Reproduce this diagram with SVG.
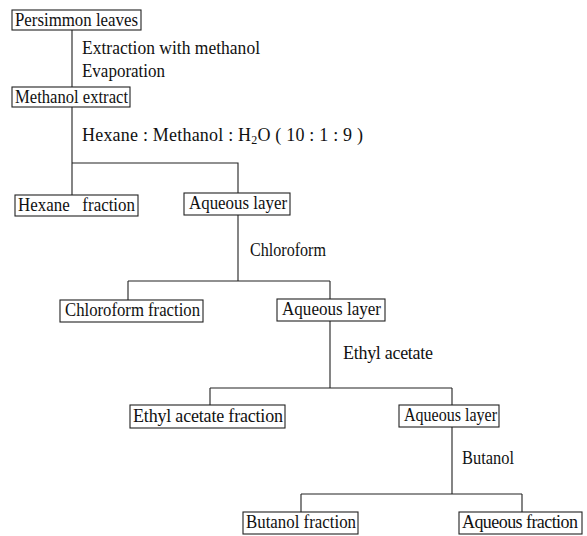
<svg xmlns="http://www.w3.org/2000/svg" width="587" height="536" viewBox="0 0 587 536">
<style>
text{font-family:"Liberation Serif","Times New Roman",serif;font-size:18px;fill:#111;white-space:pre}
.box{fill:none;stroke:#222;stroke-width:1.1}
.ln{fill:none;stroke:#222;stroke-width:1.1}
</style>
<rect width="587" height="536" fill="#fff"/>
<g id="connectors">
<path class="ln" d="M72,30V87M72,107V195M72,163H238V193M238,215V281M128,281H330M128,281V300M330,281V299M330,321V388M210,388H452M210,388V405M452,388V405M452,427V494M301,494H522M301,494V512M522,494V512"/>
<text x="82" y="54" textLength="178" lengthAdjust="spacingAndGlyphs">Extraction with methanol</text>
<text x="82" y="77" textLength="83" lengthAdjust="spacingAndGlyphs">Evaporation</text>
<text x="82" y="141" textLength="281" lengthAdjust="spacing">Hexane : Methanol : H<tspan font-size="12" dy="3">2</tspan><tspan dy="-3">O ( 10 : 1 : 9 )</tspan></text>
<text x="250" y="256" textLength="76" lengthAdjust="spacingAndGlyphs">Chloroform</text>
<text x="343" y="359" textLength="90" lengthAdjust="spacing">Ethyl acetate</text>
<text x="462" y="464" textLength="52" lengthAdjust="spacingAndGlyphs">Butanol</text>
</g>
<g id="n1"><rect class="box" x="12" y="10" width="129" height="20"/><text x="15" y="26" textLength="123" lengthAdjust="spacingAndGlyphs">Persimmon leaves</text></g>
<g id="n2"><rect class="box" x="12" y="87" width="118" height="20"/><text x="15" y="103" textLength="113" lengthAdjust="spacingAndGlyphs">Methanol extract</text></g>
<g id="n3"><rect class="box" x="15" y="195" width="123" height="21"/><text x="18" y="211" textLength="117" lengthAdjust="spacingAndGlyphs">Hexane   fraction</text></g>
<g id="n4"><rect class="box" x="184" y="193" width="106" height="22"/><text x="189" y="209" textLength="98" lengthAdjust="spacingAndGlyphs">Aqueous layer</text></g>
<g id="n5"><rect class="box" x="60" y="300" width="143" height="22"/><text x="65" y="316" textLength="135" lengthAdjust="spacingAndGlyphs">Chloroform fraction</text></g>
<g id="n6"><rect class="box" x="277" y="299" width="108" height="22"/><text x="282" y="315" textLength="99" lengthAdjust="spacingAndGlyphs">Aqueous layer</text></g>
<g id="n7"><rect class="box" x="130" y="405" width="155" height="23"/><text x="133" y="422" textLength="150" lengthAdjust="spacing">Ethyl acetate fraction</text></g>
<g id="n8"><rect class="box" x="399" y="405" width="100" height="22"/><text x="404" y="421" textLength="93" lengthAdjust="spacingAndGlyphs">Aqueous layer</text></g>
<g id="n9"><rect class="box" x="243" y="512" width="115" height="22"/><text x="246" y="528" textLength="110" lengthAdjust="spacingAndGlyphs">Butanol fraction</text></g>
<g id="n10"><rect class="box" x="459" y="512" width="123" height="22"/><text x="462" y="528" textLength="116" lengthAdjust="spacing">Aqueous fraction</text></g>
</svg>
